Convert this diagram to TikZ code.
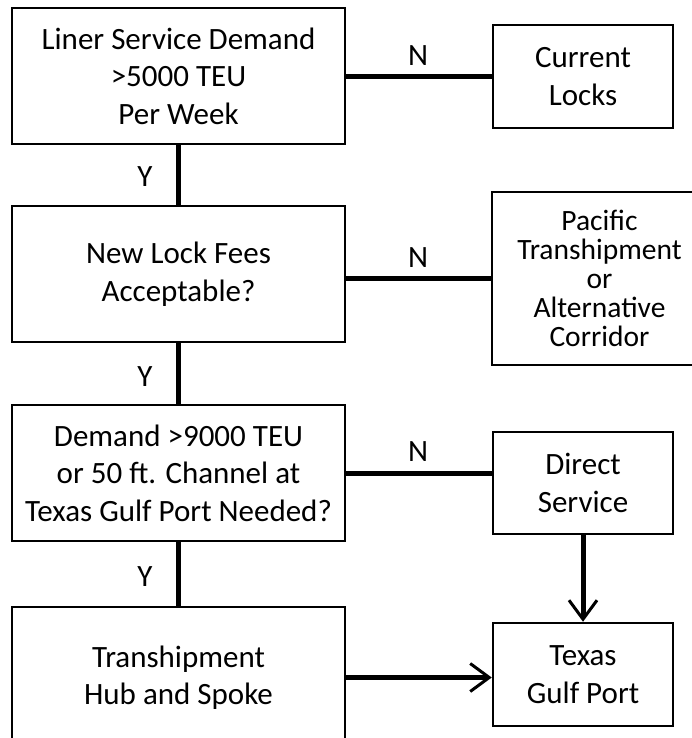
\documentclass[tikz,border=0pt]{standalone}
\usepackage{fontspec}
\setmainfont{Carlito}
\usepackage{tikz}
\usetikzlibrary{arrows.meta}

\tikzset{
  box/.style={draw, line width=2.5pt, align=center, inner sep=0pt,
    font=\fontsize{31}{37.5}\selectfont},
  lbl/.style={font=\fontsize{31}{37.5}\selectfont, inner sep=0pt},
  link/.style={line width=5pt},
}

\begin{document}
\begin{tikzpicture}[x=1pt,y=-1pt]
		\clip (0,0) rectangle (692,738);

		\node[box, minimum width=333pt, minimum height=136pt] (demand) at (178.5,76) {Liner Service Demand\\>5000 TEU\\Per Week};
		\node[box, minimum width=333pt, minimum height=136pt] (fees) at (178.5,274) {New Lock Fees\\Acceptable?};
		\node[box, minimum width=333pt, minimum height=136pt] (channel) at (178.5,473) {Demand >9000 TEU\\or 50 ft. Channel at\\Texas Gulf Port Needed?};
		\node[box, minimum width=333pt, minimum height=141pt] (hub) at (178.5,677.5) {Transhipment\\Hub and Spoke};

		\node[box, minimum width=180pt, minimum height=103pt] (locks) at (583,76.5) {Current\\Locks};
		\node[box, minimum width=215pt, minimum height=173pt,
		      font=\fontsize{29.5}{29}\selectfont] (pacific) at (599.5,278.5) {Pacific\\Transhipment\\or\\Alternative\\Corridor};
		\node[box, minimum width=180pt, minimum height=102pt] (direct) at (583,483) {Direct\\Service};
		\node[box, minimum width=180pt, minimum height=103pt] (texas) at (583,674.5) {Texas\\Gulf Port};

		\draw[link] (demand.south) -- (fees.north);
		\draw[link] (fees.south) -- (channel.north);
		\draw[link] (channel.south) -- (hub.north);

		\draw[link] (demand.east |- locks.west) -- (locks.west);
		\draw[link] (fees.east |- pacific.west) -- (pacific.west);
		\draw[link] (channel.east) -- (channel.east -| direct.west);
		\draw[link, -{Straight Barb[length=19pt,width=28pt,line width=3pt]}] (hub.east) -- (hub.east -| texas.west);
		\draw[link, -{Straight Barb[length=19pt,width=28pt,line width=3pt]}] (direct.south) -- (texas.north);

		\foreach \y/\n in {56/1,258/2,452/3} {
		\node[lbl] (no\n) at (418,\y) {N};
		}
		\foreach \y/\n in {177/1,377/2,577/3} {
		\node[lbl] (yes\n) at (145,\y) {Y};
		}
	\end{tikzpicture}
\end{document}
